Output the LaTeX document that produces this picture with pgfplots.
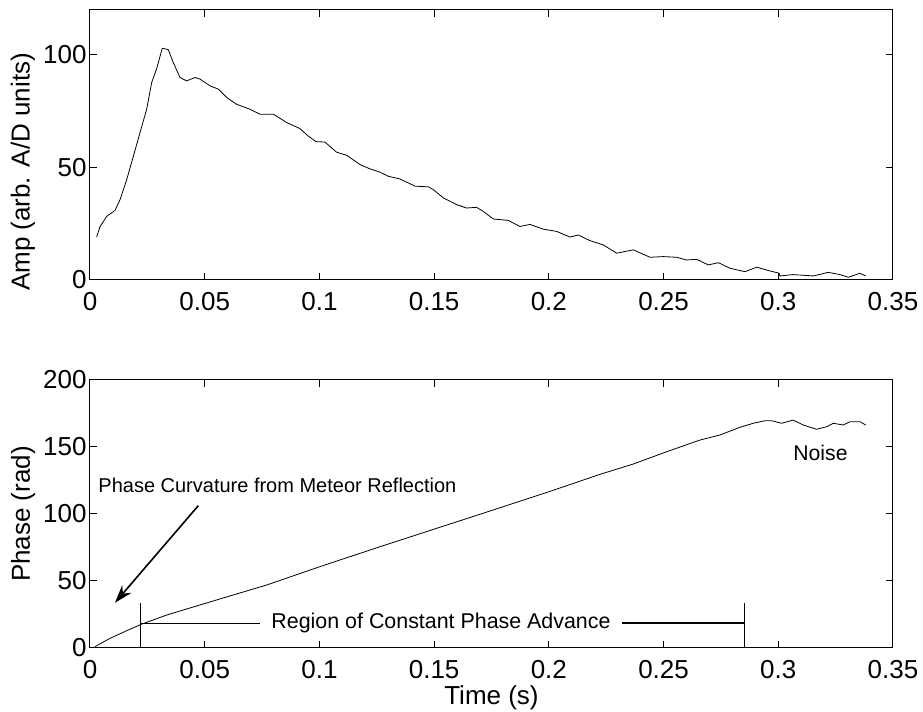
\documentclass[border=0pt]{standalone}
\usepackage{fontspec}
\setmainfont{Liberation Sans}
\usepackage{pgfplots}
\pgfplotsset{compat=1.18}
\usetikzlibrary{arrows.meta}

\pgfplotsset{
  meteor/.style={
    scale only axis, width=401.5pt,
    xmin=0, xmax=0.35,
    xtick={0,0.05,0.1,0.15,0.2,0.25,0.3,0.35},
    xticklabels={0,0.05,0.1,0.15,0.2,0.25,0.3,0.35},
    tick align=inside, major tick length=3.5pt,
    axis line style={line width=0.5pt},
    every tick/.style={black, line width=0.5pt},
    yticklabel style={inner xsep=1.5pt},
    xticklabel style={yshift=-1.5pt},
    cycle list={{black, line width=0.6pt, no marks, line join=round}},
  }
}

\begin{document}
\fontsize{13}{15.6}\selectfont
\begin{tikzpicture}
% amplitude
\begin{axis}[meteor, at={(0pt,0pt)}, height=135pt,
  ymin=0, ymax=120, ytick={0,50,100}, yticklabels={0,50,100},
  ylabel={Amp (arb. A/D units)},
  every axis y label/.style={at={(axis description cs:-0.0834,0.4)}, rotate=90, anchor=center}]
\addplot coordinates {
(0.0029,19.1) (0.0044,23.8) (0.0073,28.3) (0.0109,30.9) (0.0131,35.7) (0.016,44.6)
(0.0189,55) (0.0218,65.5) (0.0247,75.9) (0.0269,87.8) (0.029,93.75) (0.0315,103)
(0.0341,102.4) (0.0363,96.7) (0.0392,90) (0.0421,88.5) (0.0458,90) (0.0479,89.3)
(0.0523,86.3) (0.056,84.8) (0.0596,81.1) (0.0639,78.1) (0.0697,75.9) (0.0741,73.7)
(0.0799,73.7) (0.0857,70) (0.0915,67.3) (0.0951,64) (0.0985,61.5) (0.1024,61.3)
(0.1075,56.8) (0.1119,55.4) (0.1177,51.3) (0.122,49.4) (0.1264,47.9) (0.13,46.1)
(0.1351,44.9) (0.1417,41.7) (0.1475,41.4) (0.1496,40.2) (0.154,36.5) (0.1598,33.5)
(0.1642,32) (0.1685,32.3) (0.1714,30.5) (0.1758,27.1) (0.1823,26.5) (0.1874,23.8)
(0.1918,24.7) (0.1976,22.6) (0.2034,21.6) (0.2092,19.1) (0.2128,20) (0.2179,17.5)
(0.2237,15.6) (0.2296,11.9) (0.2368,13.4) (0.2441,10.1) (0.2499,10.4) (0.2557,10.1)
(0.26,8.9) (0.2644,9.2) (0.2695,6.7) (0.2739,7.7) (0.279,5.2) (0.2855,3.7)
(0.2906,5.7) (0.2957,4.2) (0.3004,3.0) (0.3007,1.8) (0.3065,2.4) (0.3153,1.8)
(0.3218,3.4) (0.3269,2.4) (0.3305,1.2) (0.3356,3.0) (0.3381,1.8)};
\end{axis}

% phase
\begin{axis}[meteor, at={(0pt,-184pt)}, height=134pt,
  ymin=0, ymax=200, ytick={0,50,100,150,200}, yticklabels={0,50,100,150,200},
  ylabel={Phase (rad)}, xlabel={Time (s)},
  every axis y label/.style={at={(axis description cs:-0.0834,0.5)}, rotate=90, anchor=center},
  every axis x label/.style={at={(axis description cs:0.5,-0.1866)}, anchor=center}]
\addplot coordinates {
(0.0022,1.0) (0.0087,7.2) (0.016,12.9) (0.0222,17.6) (0.0334,24.6) (0.0479,32.1)
(0.0625,39.6) (0.077,47) (0.1002,60.7) (0.125,74.8) (0.15,88.7) (0.175,102.6)
(0.2,116.6) (0.2223,129.6) (0.2368,137.3) (0.2514,146.5) (0.2659,155.2) (0.2746,159)
(0.2833,164.7) (0.2891,167.7) (0.2942,169.6) (0.2971,169.6) (0.3015,167.7) (0.3065,170.1)
(0.3109,166.4) (0.3167,163.2) (0.3211,165.1) (0.324,167.7) (0.3283,166.4) (0.3313,168.9)
(0.3356,168.9) (0.3381,166.4)};
\draw[line width=0.5pt] (axis cs:0.0222,0) -- (axis cs:0.0222,33.4);
\draw[line width=0.5pt] (axis cs:0.2852,0) -- (axis cs:0.2852,33.4);
\draw[line width=0.5pt] (axis cs:0.0222,18.6) -- (axis cs:0.0741,18.6);
\draw[line width=0.7pt] (axis cs:0.2317,18.6) -- (axis cs:0.2852,18.6);
\node[font=\fontsize{10.7}{12.8}\selectfont, anchor=center] at (axis cs:0.153,18.6) {Region of Constant Phase Advance};
\node[font=\fontsize{10}{12}\selectfont, anchor=west, inner xsep=0pt] at (axis cs:0.0035,121.1) {Phase Curvature from Meteor Reflection};
\node[font=\fontsize{10.6}{12.7}\selectfont, anchor=center] at (axis cs:0.3184,145.3) {Noise};
\draw[line width=0.8pt, -{Stealth[length=9pt, width=6pt]}] (axis cs:0.0472,106.2) -- (axis cs:0.0109,33.8);
\end{axis}

\pgfresetboundingbox
\path[use as bounding box] (-45pt,-216pt) rectangle (416.5pt,140pt);
\end{tikzpicture}
\end{document}
